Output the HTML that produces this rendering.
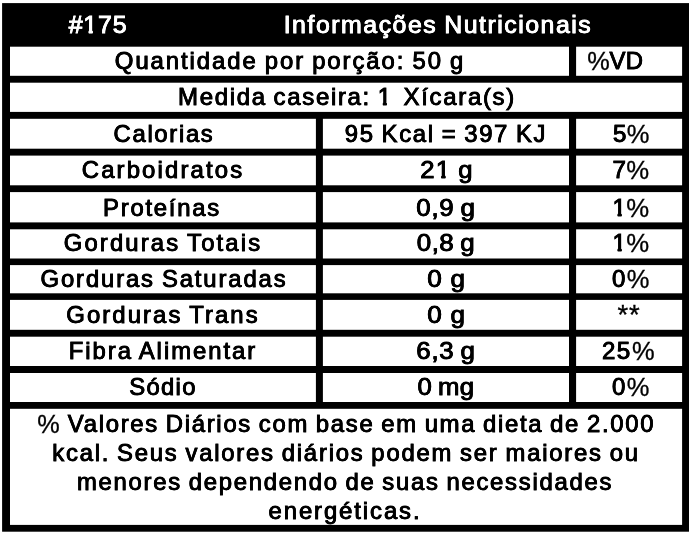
<!DOCTYPE html>
<html><head><meta charset="utf-8"><title>Informações Nutricionais</title>
<style>
html,body{margin:0;padding:0;background:#fff;}
body{width:692px;height:535px;position:relative;overflow:hidden;font-family:"Liberation Sans",sans-serif;}
svg{position:absolute;left:0;top:0;}
#txt{position:absolute;left:0;top:0;width:692px;height:535px;will-change:transform;}
.t{position:absolute;transform-origin:50% 50%;font-size:23.4px;--fy:15.95px;white-space:nowrap;line-height:1;word-spacing:-1.5px;-webkit-text-stroke:0.8px #000;color:#000;text-shadow:0.25px 0 0 #000,-0.25px 0 0 #000;}
.h{font-size:24.4px;--fy:16.95px;color:#fff;-webkit-text-stroke-color:#fff;text-shadow:0.25px 0 0 #fff,-0.25px 0 0 #fff;}
.p{-webkit-text-stroke-width:.3px;text-shadow:none;display:inline-block;transform:scale(1.06,1.07);transform-origin:50% 12%;margin:0 .027em}.g{display:inline-block;width:4px}.a{-webkit-text-stroke-width:.3px;text-shadow:none;display:inline-block;transform:translateY(-1.4px) scale(1.14,1.18);transform-origin:50% 30%;margin:0 .027em}.o{display:inline-block;clip-path:polygon(-1em -1em,2em -1em,2em var(--fy),calc(.3398em + 0.80px) var(--fy),calc(.3398em + 0.80px) 2em,calc(.2515em - 0.80px) 2em,calc(.2515em - 0.80px) var(--fy),-1em var(--fy))}
</style></head><body>
<svg width="692" height="535" viewBox="0 0 692 535">
<rect x="2.1" y="3.1" width="686.90" height="528.60" fill="#000"/>
<rect x="10.00" y="46.70" width="559.00" height="29.10" fill="#fff"/>
<rect x="576.10" y="46.70" width="106.00" height="29.10" fill="#fff"/>
<rect x="10.00" y="82.70" width="672.10" height="29.20" fill="#fff"/>
<rect x="10.00" y="118.80" width="305.90" height="29.90" fill="#fff"/>
<rect x="322.90" y="118.80" width="246.10" height="29.90" fill="#fff"/>
<rect x="576.10" y="118.80" width="106.00" height="29.90" fill="#fff"/>
<rect x="10.00" y="155.60" width="305.90" height="29.70" fill="#fff"/>
<rect x="322.90" y="155.60" width="246.10" height="29.70" fill="#fff"/>
<rect x="576.10" y="155.60" width="106.00" height="29.70" fill="#fff"/>
<rect x="10.00" y="192.10" width="305.90" height="30.30" fill="#fff"/>
<rect x="322.90" y="192.10" width="246.10" height="30.30" fill="#fff"/>
<rect x="576.10" y="192.10" width="106.00" height="30.30" fill="#fff"/>
<rect x="10.00" y="229.30" width="305.90" height="29.20" fill="#fff"/>
<rect x="322.90" y="229.30" width="246.10" height="29.20" fill="#fff"/>
<rect x="576.10" y="229.30" width="106.00" height="29.20" fill="#fff"/>
<rect x="10.00" y="265.10" width="305.90" height="28.20" fill="#fff"/>
<rect x="322.90" y="265.10" width="246.10" height="28.20" fill="#fff"/>
<rect x="576.10" y="265.10" width="106.00" height="28.20" fill="#fff"/>
<rect x="10.00" y="299.90" width="305.90" height="29.90" fill="#fff"/>
<rect x="322.90" y="299.90" width="246.10" height="29.90" fill="#fff"/>
<rect x="576.10" y="299.90" width="106.00" height="29.90" fill="#fff"/>
<rect x="10.00" y="336.70" width="305.90" height="29.30" fill="#fff"/>
<rect x="322.90" y="336.70" width="246.10" height="29.30" fill="#fff"/>
<rect x="576.10" y="336.70" width="106.00" height="29.30" fill="#fff"/>
<rect x="10.00" y="373.00" width="305.90" height="29.00" fill="#fff"/>
<rect x="322.90" y="373.00" width="246.10" height="29.00" fill="#fff"/>
<rect x="576.10" y="373.00" width="106.00" height="29.00" fill="#fff"/>
<rect x="10.00" y="408.80" width="672.10" height="116.10" fill="#fff"/>
</svg>
<div id="txt">
<div class="t h" style="left:98.34px;top:13px;letter-spacing:0.791px;transform:translateX(-50%) scaleX(1.0222)">#<span class="o">1</span>75</div>
<div class="t h" style="left:438.18px;top:13px;letter-spacing:1.488px;transform:translateX(-50%) scaleX(1.0199)">Informações Nutricionais</div>
<div class="t" style="left:290.40px;top:50px;letter-spacing:1.912px;transform:translateX(-50%) scaleX(1.0199)">Quantidade por porção: 50 g</div>
<div class="t" style="left:615.35px;top:50px;letter-spacing:0.145px;transform:translateX(-50%) scaleX(1.0208)"><span class="p">%</span>VD</div>
<div class="t" style="left:346.89px;top:86px;letter-spacing:1.628px;transform:translateX(-50%) scaleX(1.0254)">Medida caseira: <span class="o">1</span><span class="g"></span> Xícara(s)</div>
<div class="t" style="left:163.64px;top:123px;letter-spacing:1.654px;transform:translateX(-50%) scaleX(1.0182)">Calorias</div>
<div class="t" style="left:446.15px;top:123px;letter-spacing:1.667px;transform:translateX(-50%) scaleX(1.0214)">95 Kcal = 397 KJ</div>
<div class="t" style="left:630.50px;top:123px;letter-spacing:0.064px;transform:translateX(-50%) scaleX(1.0294)">5<span class="p">%</span></div>
<div class="t" style="left:163.39px;top:159px;letter-spacing:2.103px;transform:translateX(-50%) scaleX(1.0209)">Carboidratos</div>
<div class="t" style="left:446.87px;top:159px;letter-spacing:1.220px;transform:translateX(-50%) scaleX(1.0978)">2<span class="o">1</span> g</div>
<div class="t" style="left:630.63px;top:159px;letter-spacing:0.314px;transform:translateX(-50%) scaleX(1.0370)">7<span class="p">%</span></div>
<div class="t" style="left:162.38px;top:197px;letter-spacing:1.721px;transform:translateX(-50%) scaleX(1.0201)">Proteínas</div>
<div class="t" style="left:445.54px;top:197px;letter-spacing:0.636px;transform:translateX(-50%) scaleX(1.1063)">0,9 g</div>
<div class="t" style="left:630.61px;top:197px;letter-spacing:0.333px;transform:translateX(-50%) scaleX(1.0382)"><span class="o">1</span><span class="p">%</span></div>
<div class="t" style="left:163.39px;top:232px;letter-spacing:2.102px;transform:translateX(-50%) scaleX(1.0196)">Gorduras Totais</div>
<div class="t" style="left:445.80px;top:232px;letter-spacing:0.455px;transform:translateX(-50%) scaleX(1.1069)">0,8 g</div>
<div class="t" style="left:630.61px;top:232px;letter-spacing:0.333px;transform:translateX(-50%) scaleX(1.0382)"><span class="o">1</span><span class="p">%</span></div>
<div class="t" style="left:163.76px;top:268px;letter-spacing:1.851px;transform:translateX(-50%) scaleX(1.0188)">Gorduras Saturadas</div>
<div class="t" style="left:446.51px;top:268px;letter-spacing:1.432px;transform:translateX(-50%) scaleX(1.1125)">0 g</div>
<div class="t" style="left:630.51px;top:268px;letter-spacing:1.044px;transform:translateX(-50%) scaleX(1.0286)">0<span class="p">%</span></div>
<div class="t" style="left:163.39px;top:304px;letter-spacing:2.040px;transform:translateX(-50%) scaleX(1.0201)">Gorduras Trans</div>
<div class="t" style="left:446.51px;top:304px;letter-spacing:1.432px;transform:translateX(-50%) scaleX(1.1125)">0 g</div>
<div class="t" style="left:628.89px;top:304px;letter-spacing:0.980px;transform:translateX(-50%) scaleX(1.0313)"><span class="a">*</span><span class="a">*</span></div>
<div class="t" style="left:162.75px;top:340px;letter-spacing:1.937px;transform:translateX(-50%) scaleX(1.0193)">Fibra Alimentar</div>
<div class="t" style="left:445.55px;top:340px;letter-spacing:0.631px;transform:translateX(-50%) scaleX(1.1059)">6,3 g</div>
<div class="t" style="left:629.49px;top:340px;letter-spacing:1.549px;transform:translateX(-50%) scaleX(1.0271)">25<span class="p">%</span></div>
<div class="t" style="left:163.14px;top:376px;letter-spacing:1.306px;transform:translateX(-50%) scaleX(1.0196)">Sódio</div>
<div class="t" style="left:446.21px;top:376px;letter-spacing:0.273px;transform:translateX(-50%) scaleX(1.1015)">0 mg</div>
<div class="t" style="left:630.51px;top:376px;letter-spacing:1.044px;transform:translateX(-50%) scaleX(1.0286)">0<span class="p">%</span></div>
<div class="t" style="left:346.09px;top:413px;letter-spacing:1.678px;transform:translateX(-50%) scaleX(1.0202)"><span class="p">%</span> Valores Diários com base em uma dieta de 2.000</div>
<div class="t" style="left:346.44px;top:442px;letter-spacing:1.751px;transform:translateX(-50%) scaleX(1.0197)">kcal. Seus valores diários podem ser maiores ou</div>
<div class="t" style="left:345.06px;top:471px;letter-spacing:1.696px;transform:translateX(-50%) scaleX(1.0199)">menores dependendo de suas necessidades</div>
<div class="t" style="left:345.48px;top:500px;letter-spacing:1.872px;transform:translateX(-50%) scaleX(1.0206)">energéticas.</div>
</div>
</body></html>
